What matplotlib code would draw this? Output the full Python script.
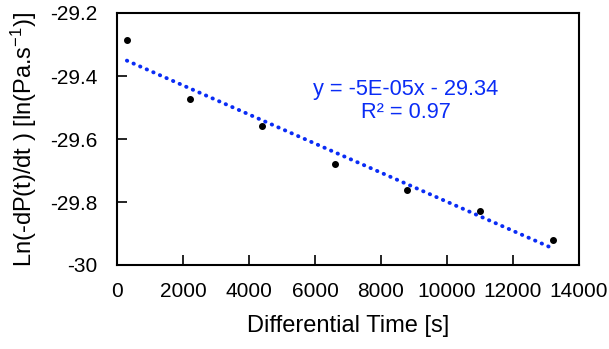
import numpy as np
import matplotlib
matplotlib.use("Agg")
import matplotlib.pyplot as plt

plt.rcParams['font.family'] = ['Liberation Sans', 'DejaVu Sans']
plt.rcParams['mathtext.fontset'] = 'custom'
plt.rcParams['mathtext.rm'] = 'Liberation Sans'
plt.rcParams['mathtext.default'] = 'rm'

# Data
time_s = [300, 2200, 4400, 6600, 8800, 11000, 13200]
ln_rate = [-29.287, -29.473, -29.559, -29.680, -29.762, -29.828, -29.920]

x_ticks = [0, 2000, 4000, 6000, 8000, 10000, 12000, 14000]
y_ticks = [-30, -29.8, -29.6, -29.4, -29.2]
y_tick_labels = ['-30', '-29.8', '-29.6', '-29.4', '-29.2']

fig = plt.figure(figsize=(6.09, 3.49), dpi=100)
ax = fig.add_axes([117 / 609, 84 / 349, 462 / 609, 252 / 349])

# linear trendline
slope, intercept = np.polyfit(time_s, ln_rate, 1)
tx = np.array([time_s[0], time_s[-1]])
ax.plot(tx, slope * tx + intercept, color='#0a2cf5', linewidth=2.8,
        linestyle=(0, (0.1, 1.75)), dash_capstyle='round')

ax.scatter(time_s, ln_rate, color='black', s=16, zorder=3)

ax.text(8750, -29.444, 'y = -5E-05x - 29.34', color='#0a2cf5', fontsize=15.7,
        ha='center', va='center')
ax.text(8750, -29.517, 'R² = 0.97', color='#0a2cf5', fontsize=15.7,
        ha='center', va='center')

ax.set_xlim(0, 14000)
ax.set_ylim(-30, -29.2)
ax.set_xticks(x_ticks)
ax.set_yticks(y_ticks)
ax.set_yticklabels(y_tick_labels)
ax.tick_params(direction='in', length=7, width=1.2, labelsize=15)
ax.tick_params(axis='x', pad=12)
ax.tick_params(axis='y', pad=14)
for s in ax.spines.values():
    s.set_linewidth(1.5)

ax.set_xlabel('Differential Time [s]', fontsize=17, labelpad=10)
ax.set_ylabel('Ln(-dP(t)/dt ) [ln(Pa.s$^{-1}$)]', fontsize=17, labelpad=8)

fig.savefig('out.png', dpi=100)
